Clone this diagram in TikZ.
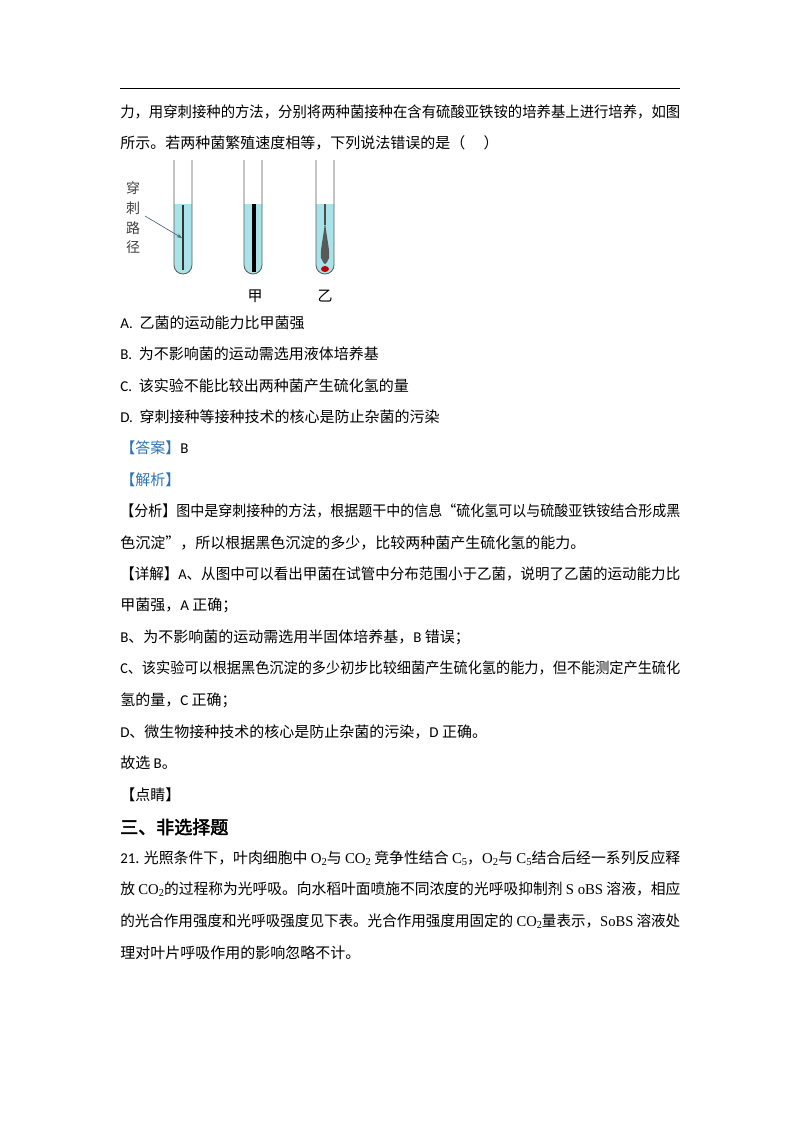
\documentclass[tikz,border=0pt]{standalone}
\usepackage{fontspec}
\usepackage{graphicx}
\usetikzlibrary{arrows.meta}
\setmainfont{Noto Sans CJK SC}[AutoFakeBold=2.5]
\newfontfamily\tnr{Liberation Serif}
\newfontfamily\clb{Carlito}
\newcommand{\dsub}[1]{\raisebox{-0.35ex}{\fontsize{8}{8}\selectfont #1}}
\newcommand{\jline}[1]{\resizebox{420pt}{\height}{#1}}
\definecolor{liq}{HTML}{A9E3EA}
\definecolor{ansblue}{HTML}{2E74B5}
\tikzset{txt/.style={anchor=west,inner sep=0pt,font=\fontsize{11.25}{14}\selectfont},
 tube/.style={draw=black!65,line width=0.6pt}}
\begin{document}
\begin{tikzpicture}[x=0.75pt,y=-0.75pt]
\useasboundingbox (0,0) rectangle (800,1132);
\draw[line width=0.6pt] (120,88) -- (680,88);
\node[txt] (l1) at (120,112) {\jline{力，用穿刺接种的方法，分别将两种菌接种在含有硫酸亚铁铵的培养基上进行培养，如图}};
\node[txt] (l2) at (120,143) {所示。若两种菌繁殖速度相等，下列说法错误的是（\quad\ ）};
% tubes
\foreach \x/\n in {174/a,244/b,316/c}{
 \fill[liq] (\x,204) -- (\x,265) arc (180:0:9) -- (\x+18,204) -- cycle;
 \draw[tube] (\x,160) -- (\x,265) arc (180:0:9) -- (\x+18,160);
}
\draw[black!80,line width=0.9pt] (183,205) -- (183,270);
\draw[black,line width=3pt] (253.5,204) -- (253.5,272);
\draw[black!70,line width=0.8pt] (325,204) -- (325,225);
\fill[black!65] (325,222) .. controls (327,240) and (330,250) .. (329,258) -- (327,262) -- (325,264) -- (323,262) -- (321,258) .. controls (320,250) and (323,240) .. (325,222) -- cycle;
\fill[red!75!black] (325,269) ellipse (4 and 3);
\foreach \c/\yy in {穿/188,刺/208,路/228,径/247}{\node[font=\fontsize{10.5}{12}\selectfont,text=black!75,inner sep=0pt] at (133,\yy) {\c};}
\coordinate (arS) at (145,216);
\coordinate (arE) at (182,238);
\draw[-{Stealth[length=4pt]},draw=black!60!cyan,line width=0.5pt] (arS) -- (arE);
\node[txt,anchor=center] (jia) at (255,296) {甲};
\node[txt,anchor=center] (yi) at (325,296) {乙};
% options
\node[txt] (oa) at (120,323) {{\clb A.}\ \ 乙菌的运动能力比甲菌强};
\node[txt] (ob) at (120,354) {{\clb B.}\ \ 为不影响菌的运动需选用液体培养基};
\node[txt] (oc) at (120,386) {{\clb C.}\ \ 该实验不能比较出两种菌产生硫化氢的量};
\node[txt] (od) at (120,417) {{\clb D.}\ \ 穿刺接种等接种技术的核心是防止杂菌的污染};
\node[txt] (ans) at (120,448) {\textcolor{ansblue}{【答案】}{\clb B}};
\node[txt] (jx) at (120,480) {\textcolor{ansblue}{【解析】}};
\node[txt] (f1) at (120,511) {\jline{【分析】图中是穿刺接种的方法，根据题干中的信息“硫化氢可以与硫酸亚铁铵结合形成黑}};
\node[txt] (f2) at (120,543) {色沉淀”，所以根据黑色沉淀的多少，比较两种菌产生硫化氢的能力。};
\node[txt] (x1) at (120,574) {\jline{【详解】{\clb A}、从图中可以看出甲菌在试管中分布范围小于乙菌，说明了乙菌的运动能力比}};
\node[txt] (x2) at (120,605) {甲菌强，{\clb A} 正确；};
\node[txt] (x3) at (120,637) {{\clb B}、为不影响菌的运动需选用半固体培养基，{\clb B} 错误；};
\node[txt] (x4) at (120,668) {\jline{{\clb C}、该实验可以根据黑色沉淀的多少初步比较细菌产生硫化氢的能力，但不能测定产生硫化}};
\node[txt] (x5) at (120,700) {氢的量，{\clb C} 正确；};
\node[txt] (x6) at (120,732) {{\clb D}、微生物接种技术的核心是防止杂菌的污染，{\clb D} 正确。};
\node[txt] (x7) at (120,763) {故选 {\clb B}。};
\node[txt] (x8) at (120,795) {【点睛】};
\node[txt,font=\fontsize{13.5}{16}\selectfont\bfseries] (h3) at (120,827) {三、非选择题};
\node[txt] (q1) at (120,858) {\jline{{\clb 21}. 光照条件下，叶肉细胞中 {\tnr O\dsub{2}}与 {\tnr CO\dsub{2}} 竞争性结合 {\tnr C\dsub{5}}，{\tnr O\dsub{2}}与 {\tnr C\dsub{5}}结合后经一系列反应释}};
\node[txt] (q2) at (120,889) {\jline{放 {\tnr CO\dsub{2}}的过程称为光呼吸。向水稻叶面喷施不同浓度的光呼吸抑制剂 {\tnr S oBS} 溶液，相应}};
\node[txt] (q3) at (120,921) {\jline{的光合作用强度和光呼吸强度见下表。光合作用强度用固定的 {\tnr CO\dsub{2}}量表示，{\tnr SoBS} 溶液处}};
\node[txt] (q4) at (120,953) {理对叶片呼吸作用的影响忽略不计。};
\end{tikzpicture}
\end{document}
